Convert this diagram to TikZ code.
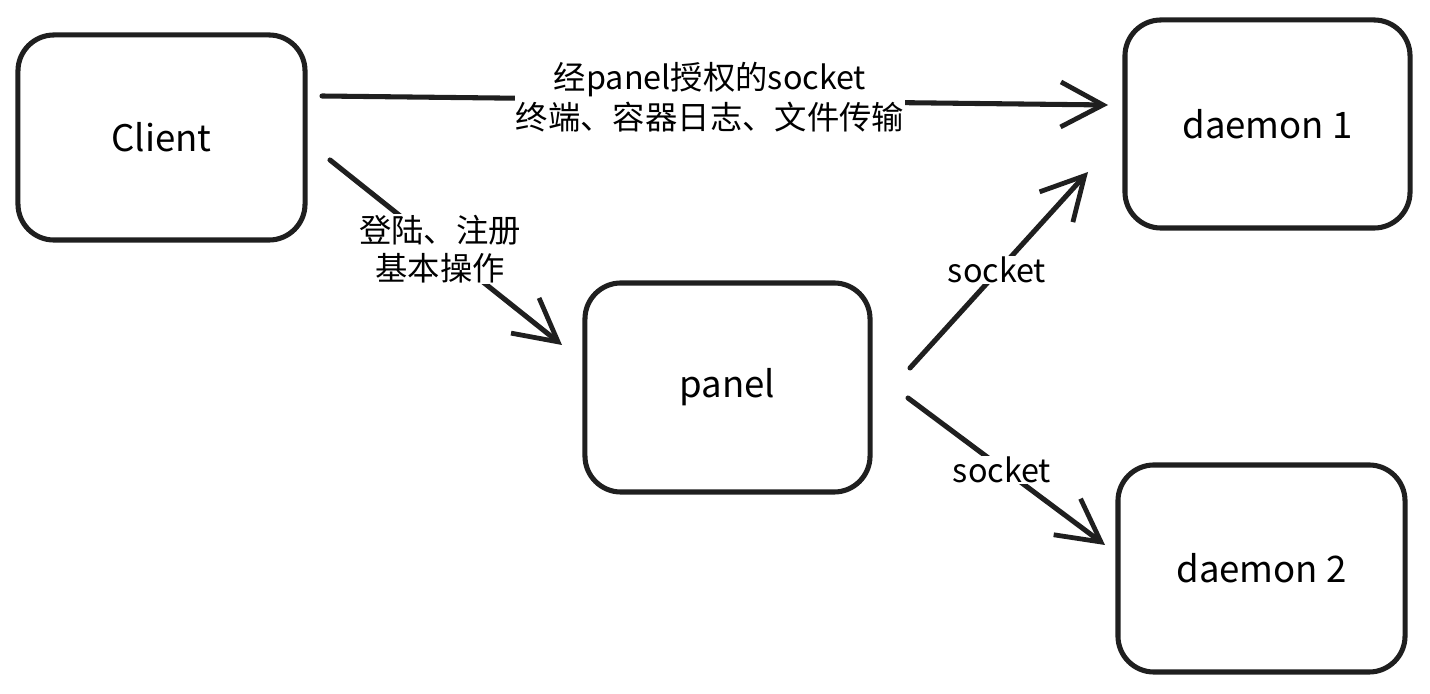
\documentclass[tikz,border=0pt]{standalone}
\usepackage{fontspec}
\setmainfont{Noto Sans CJK SC}
\usetikzlibrary{arrows.meta}
\tikzset{
  box/.style={draw=black!88, line width=3.6pt, rounded corners=0.9cm, fill=white,
    minimum width=7.15cm, minimum height=5.2cm, font=\fontsize{26}{30}\selectfont},
  lab/.style={fill=white, inner sep=1pt, align=center, font=\fontsize{23}{28.5}\selectfont},
  conn/.style={draw=black!88, line width=3.6pt, line cap=round,
    -{Straight Barb[length=30pt, width=32pt, line width=3.4pt]}},
}
\begin{document}
\begin{tikzpicture}[x=0.025cm, y=-0.025cm]
\useasboundingbox (0,0) rectangle (1430,694);
% boxes
\node[box, minimum width=7.175cm, minimum height=5.125cm] (client) at (161.5,137.5) {Client};
\node[box, minimum width=7.125cm, minimum height=5.2cm] (d1) at (1267.5,124) {daemon 1};
\node[box, minimum width=7.125cm, minimum height=5.225cm] (panel) at (727.5,387.5) {panel};
\node[box, minimum width=7.175cm, minimum height=5.175cm] (d2) at (1261.5,568.5) {daemon 2};
% connector end points
\coordinate (a1s) at (322,96);
\coordinate (a1e) at (1108,105);
\coordinate (a2s) at (330,160);
\coordinate (a2e) at (562,345);
\coordinate (a3s) at (910,368);
\coordinate (a3e) at (1088,172);
\coordinate (a4s) at (908,398);
\coordinate (a4e) at (1105,545);
% connectors
\draw[conn] (a1s) -- (a1e);
\draw[conn] (a2s) -- (a2e);
\draw[conn] (a3s) -- (a3e);
\draw[conn] (a4s) -- (a4e);
% labels
\node[lab] (l1) at (710,97) {经panel授权的socket\\终端、容器日志、文件传输};
\node[lab, font=\fontsize{23}{27}\selectfont] (l2) at (440,249) {登陆、注册\\基本操作};
\node[lab] (l3) at (997,270) {socket};
\node[lab] (l4) at (1002,470) {socket};
\end{tikzpicture}
\end{document}
